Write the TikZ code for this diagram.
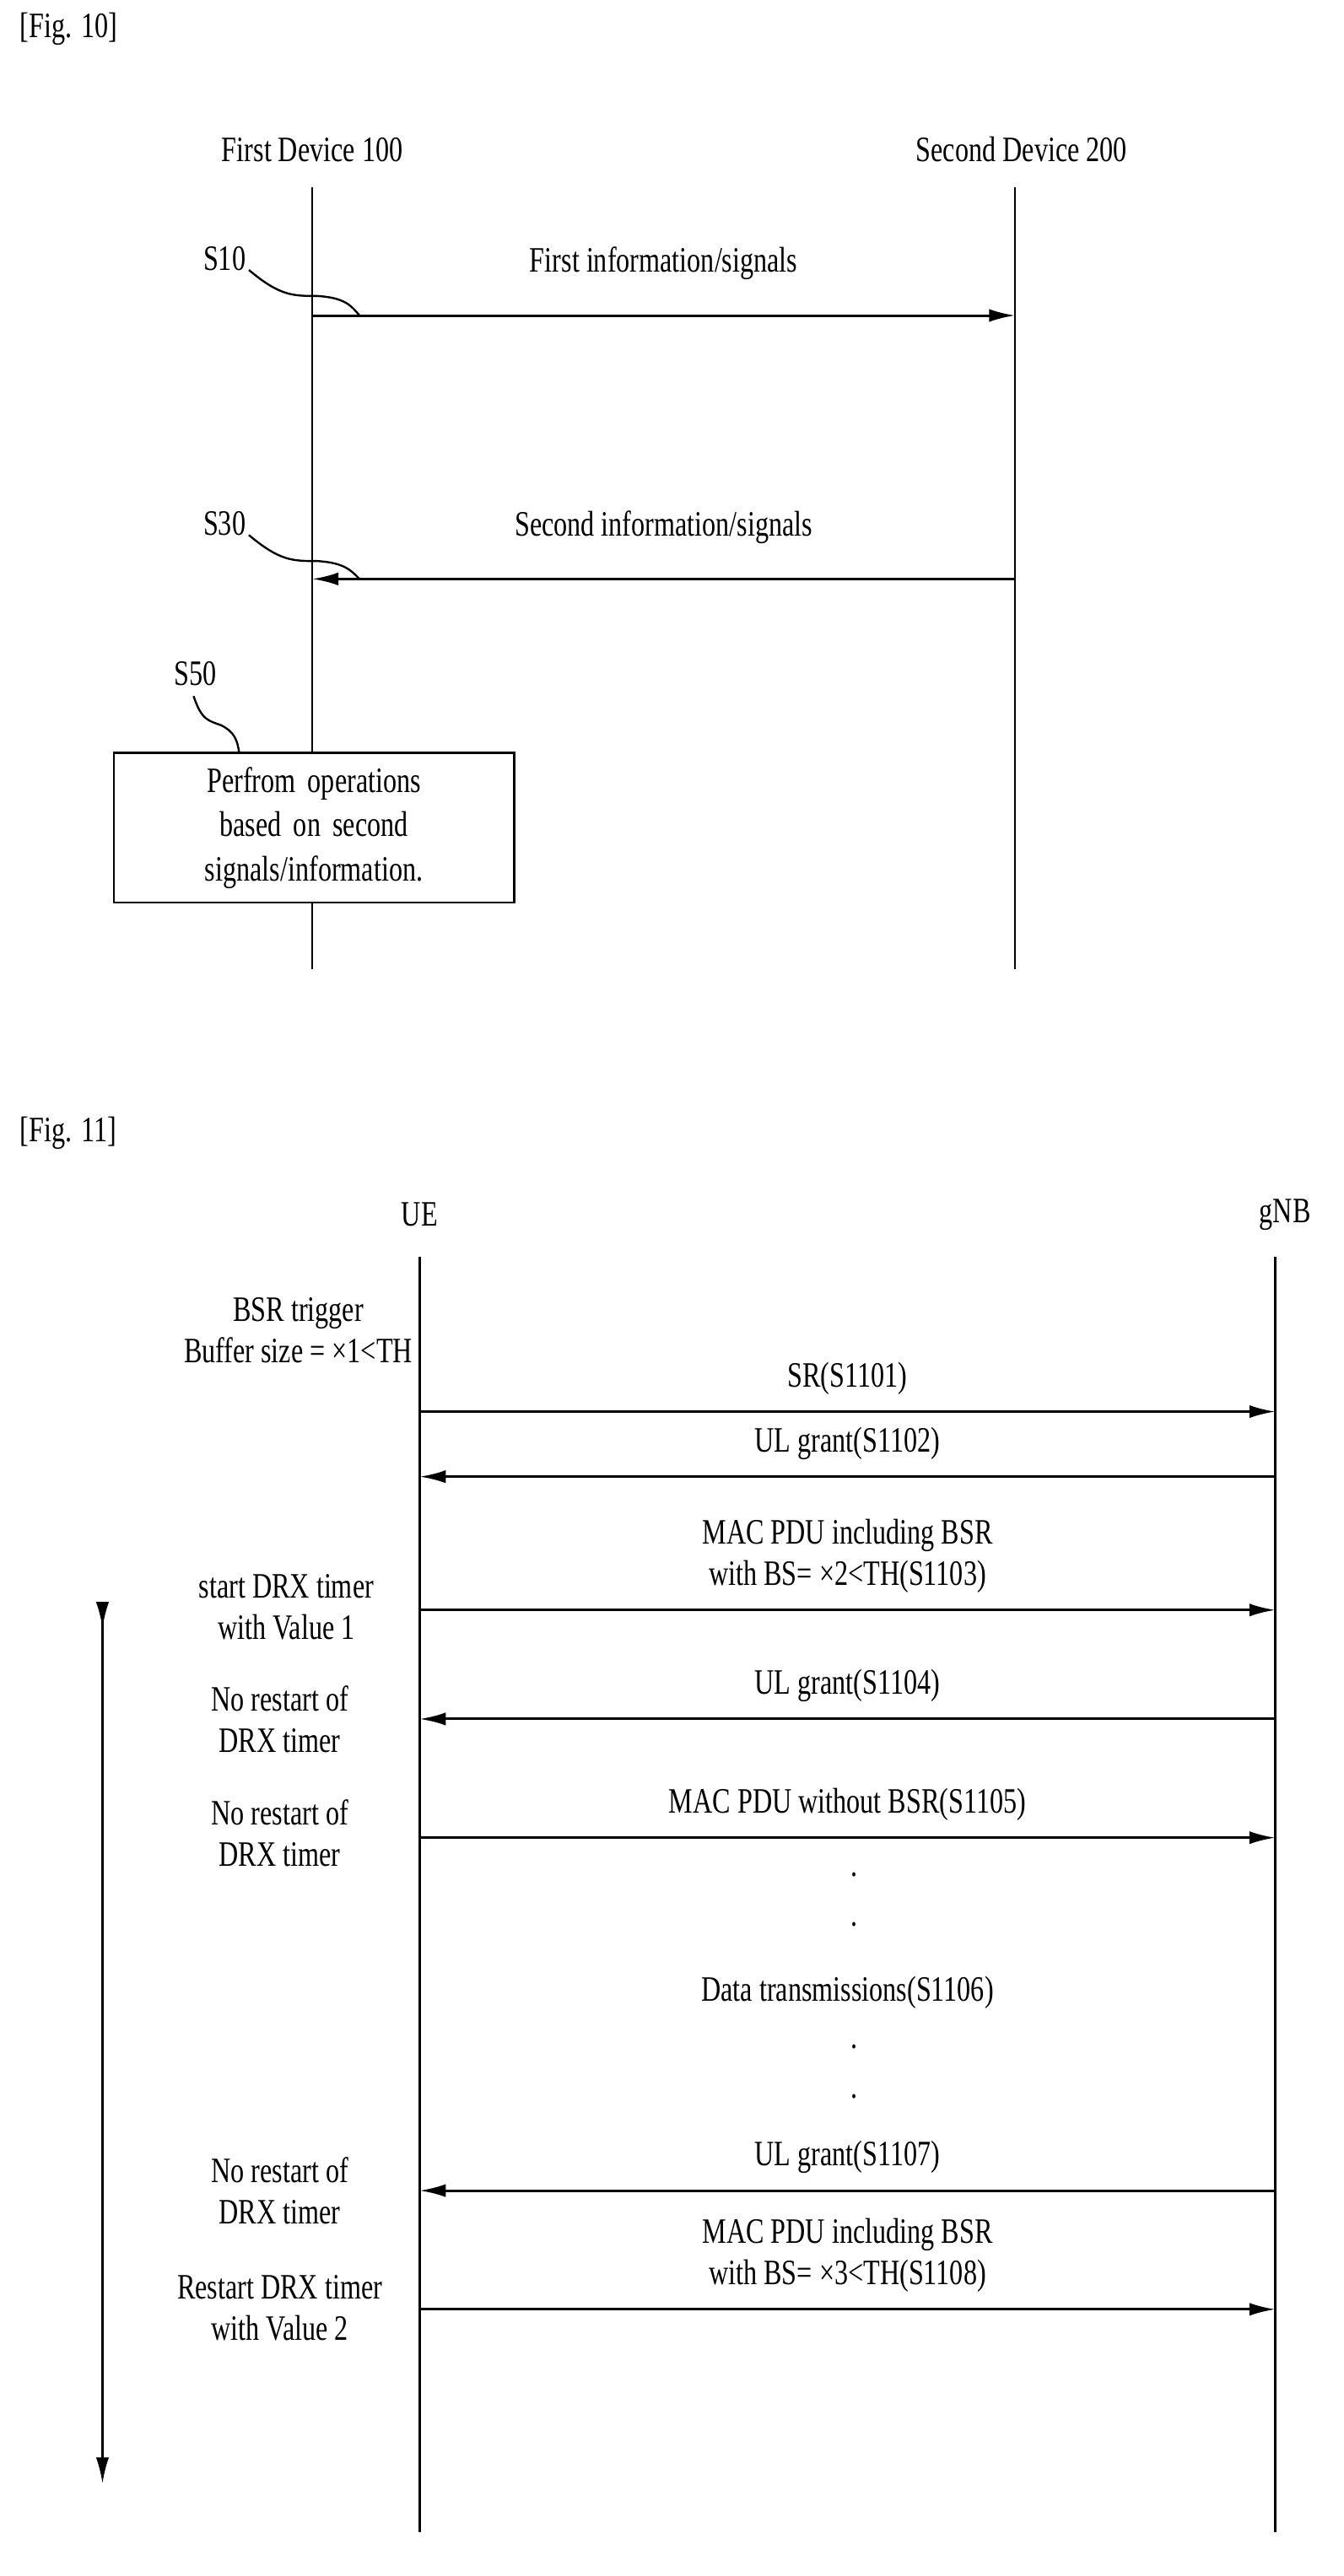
\documentclass[tikz,border=0pt]{standalone}
\usepackage{fontspec}
\setmainfont{Liberation Serif}[FakeStretch=0.76]
\usetikzlibrary{calc,positioning,arrows.meta}
\begin{document}
\begin{tikzpicture}[x=0.02cm,y=-0.02cm,font=\fontsize{12.5}{15}\selectfont,
  msg/.style={line width=0.9pt,-{Latex[length=0.32cm,width=0.16cm]}},
  life/.style={line width=0.7pt},
  lbl/.style={inner sep=0pt,align=center},
  dots/.style={inner sep=0pt,align=center,font=\fontsize{12.5}{17.5}\selectfont},
  note/.style={inner sep=0pt,align=center,font=\fontsize{12.5}{14.5}\selectfont}]
  \useasboundingbox (0,0) rectangle (826,1584);
  % Fig. 10
  \node[lbl,anchor=west] (fig10) at (12,18) {[Fig. 10]};
  \node[lbl] (dev1) at (192,92) {First Device 100};
  \node[lbl] (dev2) at (628,92) {Second Device 200};
  \coordinate (d1top) at (192,115);  \coordinate (d1bot) at (192,596);
  \coordinate (d2top) at (624,115);  \coordinate (d2bot) at (624,596);
  \draw[life] (d1top) -- (d1bot);
  \draw[life] (d2top) -- (d2bot);
  \coordinate (s10a) at (192,194); \coordinate (s10b) at (624,194);
  \draw[msg] (s10a) -- node[lbl,above=12pt] (info1) {First information/signals} (s10b);
  \coordinate (s30a) at (624,356); \coordinate (s30b) at (192,356);
  \draw[msg] (s30a) -- node[lbl,above=12pt] (info2) {Second information/signals} (s30b);
  \node[lbl] (s10) at (138,159) {S10};
  \node[lbl] (s30) at (138,322) {S30};
  \node[lbl] (s50) at (120,414) {S50};
  \draw[life] (153,166) .. controls (172,182) and (180,182) .. (195,182) .. controls (212,183) and (216,188) .. (221,194);
  \draw[life] (153,329) .. controls (172,345) and (180,345) .. (195,345) .. controls (212,346) and (216,351) .. (221,356);
  \draw[life] (119,428) .. controls (124,443) and (128,443) .. (136,446) .. controls (144,450) and (146,455) .. (147,463);
  \node[draw,line width=0.8pt,inner sep=0pt,minimum width=4.92cm,
        text width=4.6cm,minimum height=1.84cm,align=center,fill=white,
        font=\fontsize{12.5}{15.5}\selectfont] (s50box) at (193,509)
        {Perfrom operations\\based on second\\signals/information.};
  % Fig. 11
  \node[lbl,anchor=west] (fig11) at (12,697) {[Fig. 11]};
  \node[lbl] (ue) at (258,747) {UE};
  \node[lbl] (gnb) at (790,747) {gNB};
  \coordinate (uetop) at (258,773);  \coordinate (uebot) at (258,1557);
  \coordinate (gtop) at (784,773);   \coordinate (gbot) at (784,1557);
  \draw[life] (uetop) -- (uebot);
  \draw[life] (gtop) -- (gbot);
  \foreach \y/\dir/\txt [count=\i] in {868/r/{SR(S1101)},908/l/{UL grant(S1102)},
      990/r/{MAC PDU including BSR\\with BS= ×2<TH(S1103)},1057/l/{UL grant(S1104)},
      1130/r/{MAC PDU without BSR(S1105)},1347/l/{UL grant(S1107)},
      1420/r/{MAC PDU including BSR\\with BS= ×3<TH(S1108)}}{
    \coordinate (ueM\i) at (258,\y); \coordinate (gM\i) at (784,\y);
    \if r\dir
      \draw[msg] (ueM\i) -- (gM\i);
    \else
      \draw[msg] (gM\i) -- (ueM\i);
    \fi
    \node[note,anchor=south] (msg\i) at (521,\y-10) {\txt};
  }
  \node[dots] (dotsA) at (525,1168) {.\\.};
  \node[lbl] (data) at (521,1225) {Data transmissions(S1106)};
  \node[dots] (dotsB) at (525,1274) {.\\.};
  \node[note,anchor=east] (bsr) at (254,818) {BSR trigger\hspace{0.55cm}\\Buffer size = ×1<TH};
  \node[note] (n1) at (176,988) {start DRX timer\\with Value 1};
  \node[note] (n2) at (172,1057) {No restart of\\DRX timer};
  \node[note] (n3) at (172,1127) {No restart of\\DRX timer};
  \node[note] (n4) at (172,1347) {No restart of\\DRX timer};
  \node[note] (n5) at (172,1419) {Restart DRX timer\\with Value 2};
  \coordinate (drxtop) at (63,985); \coordinate (drxbot) at (63,1527);
  \draw[line width=0.7pt,{Latex[reversed,length=0.32cm,width=0.16cm]}-{Latex[length=0.32cm,width=0.16cm]}] (drxtop) -- (drxbot);
\end{tikzpicture}
\end{document}
